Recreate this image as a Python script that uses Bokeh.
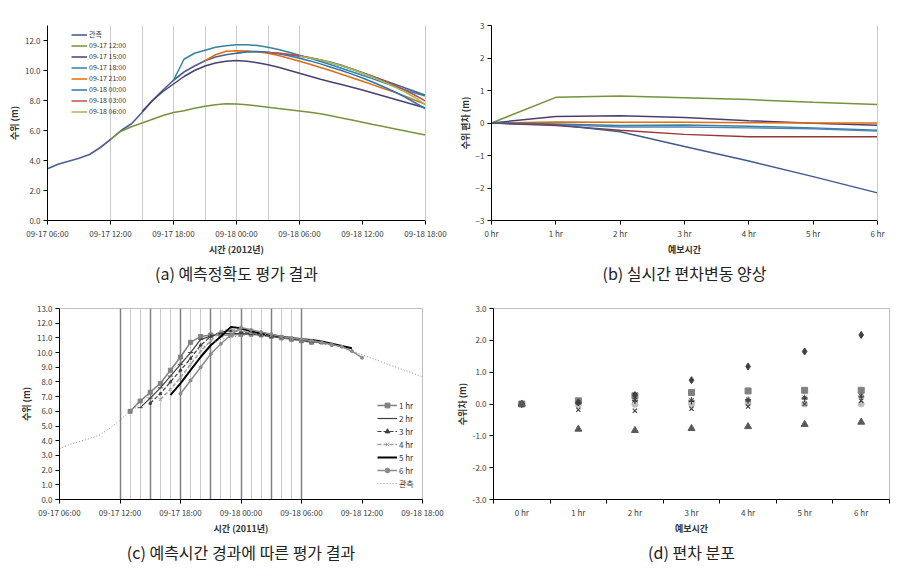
from bokeh.plotting import figure
from bokeh.layouts import column, row
from bokeh.models import (FixedTicker, Legend, LegendItem, LinearAxis, Grid,
                          NumeralTickFormatter, Range1d)
from bokeh.embed import file_html
from bokeh.resources import INLINE

FONT = "Noto Sans CJK KR"

# ---------------- data ----------------
# hours since 09-17 06:00
hours = list(range(0, 37))
time_ticks = [0, 6, 12, 18, 24, 30, 36]
time_labels = ["09-17 06:00", "09-17 12:00", "09-17 18:00", "09-18 00:00",
               "09-18 06:00", "09-18 12:00", "09-18 18:00"]

observed = [3.45, 3.75, 3.95, 4.15, 4.40, 4.85, 5.40, 6.00, 6.45, 7.20, 8.00, 8.70,
            9.35, 9.90, 10.30, 10.65, 10.90, 11.05, 11.15, 11.25, 11.25, 11.20, 11.15,
            11.05, 10.95, 10.85, 10.70, 10.55, 10.35, 10.10, 9.85, 9.60, 9.35, 9.10,
            8.85, 8.60, 8.35]

issue_names = ["09-17 12:00", "09-17 15:00", "09-17 18:00", "09-17 21:00",
               "09-18 00:00", "09-18 03:00", "09-18 06:00"]
issue_hours = [6, 9, 12, 15, 18, 21, 24]
fc_1712 = [5.40, 5.95, 6.25, 6.50, 6.75, 7.00, 7.20, 7.32, 7.48, 7.62, 7.72, 7.78, 7.77,
           7.72, 7.64, 7.55, 7.46, 7.38, 7.30, 7.22, 7.12, 6.98, 6.84, 6.70, 6.55, 6.40,
           6.26, 6.12, 5.98, 5.84, 5.70]
fc_1715 = [7.27, 8.00, 8.60, 9.10, 9.60, 10.00, 10.30, 10.50, 10.62, 10.66, 10.62, 10.52,
           10.38, 10.22, 10.02, 9.82, 9.62, 9.42, 9.24, 9.06, 8.88, 8.70, 8.50, 8.30, 8.10,
           7.90, 7.70, 7.50]
fc_1718 = [9.35, 10.75, 11.15, 11.35, 11.55, 11.65, 11.72, 11.72, 11.66, 11.55, 11.40,
           11.22, 11.02, 10.82, 10.60, 10.38, 10.15, 9.92, 9.68, 9.44, 9.20, 8.96, 8.72,
           8.50, 8.30]
fc_1721 = [10.65, 11.05, 11.28, 11.32, 11.30, 11.25, 11.15, 11.00, 10.82, 10.62, 10.42,
           10.20, 9.98, 9.75, 9.52, 9.28, 9.04, 8.80, 8.56, 8.30, 8.02, 7.75]
fc_1800 = [11.15, 11.25, 11.27, 11.22, 11.12, 10.98, 10.82, 10.64, 10.44, 10.22, 10.00,
           9.76, 9.50, 9.22, 8.92, 8.60, 8.25, 7.85, 7.45]
fc_1803 = [11.20, 11.15, 11.08, 10.98, 10.85, 10.70, 10.52, 10.32, 10.10, 9.86, 9.60,
           9.32, 9.02, 8.70, 8.35, 7.96]
fc_1806 = [10.95, 10.84, 10.70, 10.52, 10.32, 10.08, 9.82, 9.54, 9.24, 8.92, 8.58, 8.20,
           7.72]
forecasts = [fc_1712, fc_1715, fc_1718, fc_1721, fc_1800, fc_1803, fc_1806]
colors_a = ["#77933C", "#4B3F72", "#31859C", "#E46C0A", "#2E75B6", "#C0504D", "#9BBB59"]
obs_color = "#4A5F95"

# (b) deviation by lead time
lead = [0, 1, 2, 3, 4, 5, 6]
lead_labels = ["0 hr", "1 hr", "2 hr", "3 hr", "4 hr", "5 hr", "6 hr"]
dev_green = [0, 0.79, 0.83, 0.78, 0.72, 0.64, 0.57]
dev_purple = [0, 0.20, 0.22, 0.17, 0.07, -0.01, -0.07]
dev_orange = [0, 0.03, 0.02, 0.02, 0.01, 0.0, 0.0]
dev_teal = [0, -0.03, -0.08, -0.06, -0.10, -0.15, -0.22]
dev_blue = [0, -0.05, -0.12, -0.12, -0.15, -0.18, -0.25]
dev_red = [0, -0.08, -0.22, -0.35, -0.42, -0.42, -0.42]
dev_navy = [0, -0.05, -0.27, -0.72, -1.17, -1.65, -2.15]
dev_series = [dev_green, dev_purple, dev_orange, dev_teal, dev_blue, dev_red, dev_navy]
dev_colors = ["#77933C", "#4B3F72", "#E46C0A", "#31859C", "#4F81BD", "#953735", "#3F5A8C"]

# (c) forecasts by lead time, target hours since 09-17 06:00
lead_names = ["1 hr", "2 hr", "3 hr", "4 hr", "5 hr", "6 hr"]
lead_start = [7, 8, 9, 10, 11, 12]
lt1 = [6.00, 6.70, 7.30, 7.90, 8.80, 9.70, 10.70, 11.10, 11.20, 11.20, 11.20, 11.25,
       11.25, 11.20, 11.10, 11.00, 10.90, 10.80, 10.70]
lt2 = [6.25, 6.90, 7.60, 8.40, 9.20, 10.00, 10.90, 11.10, 11.30, 11.30, 11.30, 11.25,
       11.20, 11.10, 11.05, 10.95, 10.85, 10.75, 10.65]
lt3 = [6.55, 7.20, 8.00, 8.80, 9.60, 10.50, 11.10, 11.40, 11.50, 11.40, 11.30, 11.20,
       11.10, 11.05, 10.95, 10.85, 10.75, 10.65, 10.50]
lt4 = [6.80, 7.50, 8.30, 9.20, 10.10, 10.80, 11.45, 11.60, 11.50, 11.35, 11.25, 11.15,
       11.05, 10.95, 10.85, 10.80, 10.70, 10.55, 10.40]
lt5 = [7.10, 7.90, 8.80, 9.70, 10.50, 11.10, 11.75, 11.65, 11.45, 11.30, 11.20, 11.10,
       11.00, 10.90, 10.85, 10.75, 10.60, 10.45, 10.30]
lt6 = [7.20, 8.10, 9.00, 9.90, 10.60, 11.20, 11.70, 11.55, 11.40, 11.25, 11.10, 11.00,
       10.90, 10.80, 10.70, 10.55, 10.40, 10.10, 9.65]
lead_series = [lt1, lt2, lt3, lt4, lt5, lt6]
hourly_grid = list(range(6, 25))

# (d) deviation distribution
d_diamond = [0, 0.05, 0.28, 0.75, 1.18, 1.65, 2.17]
d_square = [0, 0.10, 0.26, 0.36, 0.41, 0.43, 0.43]
d_triangle = [0, -0.79, -0.83, -0.77, -0.71, -0.64, -0.57]
d_x = [0, -0.18, -0.21, -0.15, -0.08, 0.0, 0.10]
d_asterisk = [0, 0.04, 0.12, 0.12, 0.14, 0.20, 0.25]
d_circle = [0, -0.02, -0.01, 0.0, 0.02, 0.0, 0.0]
d_plus = [0, 0.03, 0.10, 0.08, 0.10, 0.16, 0.22]


# ---------------- helpers ----------------
def make_fig(w, h, left, right, top, bottom, xr, yr):
    p = figure(width=w, height=h, x_range=xr, y_range=yr,
               output_backend="svg", toolbar_location=None,
               min_border_left=left, min_border_right=right,
               min_border_top=top, min_border_bottom=bottom)
    p.xgrid.visible = False
    p.ygrid.visible = False
    p.outline_line_color = None
    for ax in (p.xaxis[0], p.yaxis[0]):
        ax.axis_line_color = "black"
        ax.major_tick_line_color = "black"
        ax.major_tick_in = 0
        ax.major_tick_out = 4
        ax.minor_tick_line_color = None
        ax.major_label_text_font = FONT
        ax.major_label_text_font_size = "8px"
        ax.major_label_text_color = "#404040"
        ax.major_label_standoff = 3
        ax.axis_label_text_font = FONT
        ax.axis_label_text_font_style = "bold"
        ax.axis_label_text_font_size = "9px"
        ax.axis_label_text_color = "#333333"
        ax.axis_label_standoff = 1
    return p


def right_border(p):
    ax = LinearAxis(ticker=FixedTicker(ticks=[]), axis_line_color="#C8C8C8",
                    major_tick_line_color=None, minor_tick_line_color=None,
                    major_tick_out=0, major_tick_in=0, minor_tick_out=0,
                    major_label_standoff=0, major_label_text_color=None)
    p.add_layout(ax, "right")


def caption(p, text, standoff):
    ax = LinearAxis(ticker=FixedTicker(ticks=[]), axis_line_color=None,
                    major_tick_line_color=None, minor_tick_line_color=None,
                    major_tick_out=0, major_tick_in=0, minor_tick_out=0,
                    major_label_standoff=0, major_label_text_color=None,
                    axis_label=text, axis_label_standoff=standoff,
                    axis_label_text_font=FONT, axis_label_text_font_size="16px",
                    axis_label_text_font_style="normal", axis_label_text_color="#222222")
    p.add_layout(ax, "below")


H_TOP, H_BOT = 294, 279
T_TOP, T_BOT = 25, 14
B_ALL = 74

# ---------------- (a) ----------------
pa = make_fig(450, H_TOP, 47, 25, T_TOP, B_ALL, Range1d(0, 36), Range1d(0, 13))
pa.xaxis[0].ticker = FixedTicker(ticks=time_ticks)
pa.xaxis[0].major_label_overrides = {t: l for t, l in zip(time_ticks, time_labels)}
pa.yaxis[0].ticker = FixedTicker(ticks=[0, 2, 4, 6, 8, 10, 12])
pa.yaxis[0].formatter = NumeralTickFormatter(format="0.0")
pa.xaxis[0].axis_label = "시간 (2012년)"
pa.yaxis[0].axis_label = "수위 (m)"
pa.add_layout(Grid(dimension=0, ticker=FixedTicker(ticks=issue_hours),
                   grid_line_color="#CCCCCC", grid_line_width=1))
right_border(pa)
items_a = []
r_obs = pa.line(hours, observed, line_color=obs_color, line_width=1.6)
items_a.append(LegendItem(label="관측", renderers=[r_obs]))
for name, start, vals, col in zip(issue_names, issue_hours, forecasts, colors_a):
    xs = list(range(start, start + len(vals)))
    r = pa.line(xs, vals, line_color=col, line_width=1.5)
    items_a.append(LegendItem(label=name, renderers=[r]))
leg_a = Legend(items=items_a, location=(24, 104), label_text_font=FONT,
               label_text_font_size="7px", label_text_color="#333333",
               glyph_width=16, glyph_height=9, label_height=9, spacing=1,
               padding=2, margin=0, label_standoff=2, border_line_color=None,
               background_fill_alpha=0)
pa.add_layout(leg_a)
caption(pa, "(a) 예측정확도 평가 결과", 2)

# ---------------- (b) ----------------
pb = make_fig(450, H_TOP, 41, 23, T_TOP, B_ALL, Range1d(0, 6), Range1d(-3, 3))
pb.xaxis[0].ticker = FixedTicker(ticks=lead)
pb.xaxis[0].major_label_overrides = {t: l for t, l in zip(lead, lead_labels)}
pb.yaxis[0].ticker = FixedTicker(ticks=[-3, -2, -1, 0, 1, 2, 3])
pb.xaxis[0].axis_label = "예보시간"
pb.yaxis[0].axis_label = "수위 편차 (m)"
right_border(pb)
for vals, col in zip(dev_series, dev_colors):
    pb.line(lead, vals, line_color=col, line_width=1.5)
caption(pb, "(b) 실시간 편차변동 양상", 2)

# ---------------- (c) ----------------
pc = make_fig(450, H_BOT, 59, 28, T_BOT, B_ALL, Range1d(0, 36), Range1d(0, 13))
pc.outline_line_color = "#BFBFBF"
pc.xaxis[0].ticker = FixedTicker(ticks=time_ticks)
pc.xaxis[0].major_label_overrides = {t: l for t, l in zip(time_ticks, time_labels)}
pc.yaxis[0].ticker = FixedTicker(ticks=list(range(0, 14)))
pc.yaxis[0].formatter = NumeralTickFormatter(format="0.0")
pc.xaxis[0].axis_label = "시간 (2011년)"
pc.yaxis[0].axis_label = "수위 (m)"
pc.add_layout(Grid(dimension=0, ticker=FixedTicker(ticks=hourly_grid),
                   grid_line_color="#C8C8C8", grid_line_width=1))
pc.add_layout(Grid(dimension=0, ticker=FixedTicker(ticks=issue_hours),
                   grid_line_color="#808080", grid_line_width=1.5))
styles_c = [
    dict(color="#808080", width=1.5, dash="solid", marker="square", msize=4),
    dict(color="#404040", width=1.2, dash="solid", marker="dash", msize=5),
    dict(color="#404040", width=1.2, dash="4 2", marker="triangle", msize=3),
    dict(color="#A0A0A0", width=1.5, dash="4 2", marker="x", msize=4),
    dict(color="#000000", width=2.0, dash="solid", marker=None, msize=0),
    dict(color="#8C8C8C", width=1.5, dash="solid", marker="circle", msize=3),
]
items_c = []
for name, start, vals, st in zip(lead_names, lead_start, lead_series, styles_c):
    xs = list(range(start, start + len(vals)))
    rl = pc.line(xs, vals, line_color=st["color"], line_width=st["width"],
                 line_dash=st["dash"])
    rends = [rl]
    if st["marker"]:
        rs = pc.scatter(xs, vals, marker=st["marker"], size=st["msize"],
                        line_color=st["color"], fill_color=st["color"])
        rends.append(rs)
    items_c.append(LegendItem(label=name, renderers=rends))
ro = pc.line(hours, observed, line_color="#8C8C8C", line_width=1, line_dash="1 2")
items_c.append(LegendItem(label="관측", renderers=[ro]))
leg_c = Legend(items=items_c, location=(318, 10), label_text_font=FONT,
               label_text_font_size="8px", label_text_color="#333333",
               glyph_width=20, glyph_height=12, label_height=12, spacing=1,
               padding=2, margin=0, label_standoff=2, border_line_color=None,
               background_fill_alpha=0)
pc.add_layout(leg_c)
caption(pc, "(c) 예측시간 경과에 따른 평가 결과", 2)

# ---------------- (d) ----------------
pd_ = make_fig(450, H_BOT, 43, 11, T_BOT, B_ALL, Range1d(-0.5, 6.5), Range1d(-3, 3))
pd_.outline_line_color = "#BFBFBF"
pd_.xaxis[0].ticker = FixedTicker(ticks=lead, minor_ticks=[-0.5, 0.5, 1.5, 2.5, 3.5, 4.5, 5.5, 6.5])
pd_.xaxis[0].major_label_overrides = {t: l for t, l in zip(lead, lead_labels)}
pd_.xaxis[0].major_tick_line_color = None
pd_.xaxis[0].minor_tick_line_color = "black"
pd_.xaxis[0].minor_tick_in = 0
pd_.xaxis[0].minor_tick_out = 4
pd_.xaxis[0].major_label_standoff = 3
pd_.yaxis[0].ticker = FixedTicker(ticks=[-3, -2, -1, 0, 1, 2, 3])
pd_.yaxis[0].formatter = NumeralTickFormatter(format="0.0")
pd_.xaxis[0].axis_label = "예보시간"
pd_.yaxis[0].axis_label = "수위차 (m)"
pd_.scatter(lead, d_circle, marker="circle", size=6, line_color="#BFBFBF", fill_color="#BFBFBF")
pd_.scatter(lead, d_square, marker="square", size=6, line_color="#808080", fill_color="#808080")
pd_.scatter(lead, d_plus, marker="cross", size=6, line_color="#404040", line_width=1.2)
pd_.scatter(lead, d_asterisk, marker="asterisk", size=6, line_color="#404040", line_width=1)
pd_.scatter(lead, d_x, marker="x", size=6, line_color="#404040", line_width=1.2)
pd_.scatter(lead, d_diamond, marker="diamond", size=7, line_color="#404040", fill_color="#404040")
pd_.scatter(lead, d_triangle, marker="triangle", size=7, line_color="#595959", fill_color="#595959")
caption(pd_, "(d) 편차 분포", 2)

layout = column(row(pa, pb), row(pc, pd_))
open("out.html", "w").write(file_html(layout, INLINE))
